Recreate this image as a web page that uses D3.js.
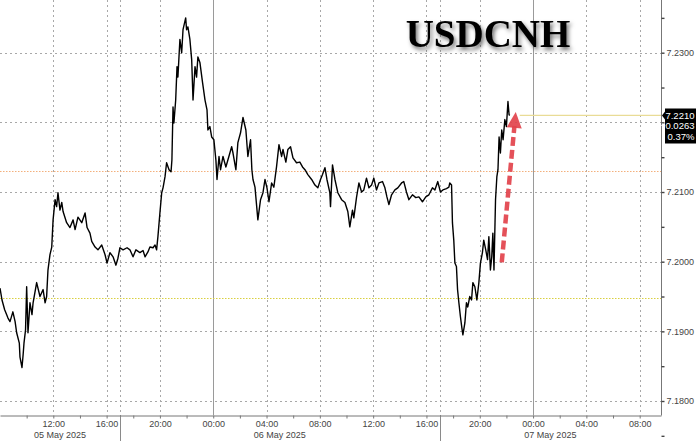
<!DOCTYPE html>
<html><head><meta charset="utf-8">
<script src="https://cdn.jsdelivr.net/npm/d3@7"></script>
<style>body{margin:0;background:#fff}svg{display:block}</style>
</head><body>
<svg id="c" width="696" height="441"></svg>
<script>
// ---------- DATA ----------
const title = "USDCNH";
const seriesStart = Date.UTC(2025, 4, 5, 8, 0);
const axisEnd = Date.UTC(2025, 4, 7, 9, 36);
// [minutes after 05 May 08:00, price]
const series = [
[0,7.1962],[9,7.1945],[21,7.1931],[36,7.1919],[45,7.1914],[58,7.1928],[68,7.1914],[75,7.1898],[87,7.1883],[90,7.1863],
[99,7.1848],[104,7.1866],[108,7.1883],[115,7.1902],[120,7.1964],[126,7.1898],[135,7.1941],[144,7.1924],[149,7.1941],[165,7.1970],
[180,7.1950],[194,7.1960],[203,7.1941],[210,7.1950],[216,7.1988],[225,7.2010],[233,7.2021],[239,7.2060],[248,7.2089],[255,7.2079],
[261,7.2099],[270,7.2074],[278,7.2085],[284,7.2072],[300,7.2056],[315,7.2049],[329,7.2060],[338,7.2046],[351,7.2064],[368,7.2056],
[383,7.2070],[392,7.2049],[405,7.2041],[413,7.2029],[428,7.2021],[441,7.2017],[458,7.2024],[473,7.2010],[482,7.1998],[495,7.2013],
[509,7.2007],[522,7.1995],[531,7.2005],[540,7.2020],[554,7.2017],[572,7.2020],[585,7.2017],[599,7.2007],[612,7.2017],[630,7.2013],
[644,7.2016],[653,7.2007],[666,7.2014],[675,7.2021],[689,7.2020],[698,7.2024],[705,7.2017],[711,7.2036],[720,7.2070],[728,7.2099],
[734,7.2106],[743,7.2122],[750,7.2142],[761,7.2132],[770,7.2129],[774,7.2146],[779,7.2222],[783,7.2199],[791,7.2232],[797,7.2280],
[801,7.2265],[810,7.2319],[818,7.2300],[824,7.2333],[836,7.2350],[840,7.2333],[846,7.2337],[855,7.2319],[863,7.2290],[869,7.2232],
[878,7.2280],[885,7.2265],[891,7.2294],[900,7.2286],[912,7.2257],[923,7.2232],[932,7.2218],[936,7.2189],[945,7.2194],[953,7.2179],
[963,7.2175],[972,7.2146],[977,7.2118],[986,7.2151],[993,7.2132],[1004,7.2151],[1017,7.2136],[1026,7.2146],[1043,7.2165],[1049,7.2156],
[1062,7.2132],[1071,7.2171],[1083,7.2185],[1094,7.2207],[1107,7.2189],[1116,7.2151],[1128,7.2175],[1134,7.2132],[1139,7.2118],[1148,7.2107],
[1161,7.2060],[1173,7.2089],[1184,7.2099],[1193,7.2118],[1202,7.2106],[1211,7.2086],[1223,7.2113],[1233,7.2107],[1245,7.2136],[1256,7.2168],
[1268,7.2151],[1274,7.2161],[1287,7.2143],[1296,7.2161],[1308,7.2165],[1319,7.2149],[1335,7.2142],[1350,7.2143],[1362,7.2136],[1373,7.2132],
[1386,7.2125],[1403,7.2118],[1418,7.2110],[1431,7.2106],[1443,7.2118],[1452,7.2125],[1463,7.2135],[1472,7.2118],[1485,7.2099],[1488,7.2079],
[1497,7.2139],[1508,7.2118],[1521,7.2099],[1538,7.2089],[1553,7.2085],[1566,7.2072],[1575,7.2050],[1587,7.2074],[1593,7.2063],[1605,7.2092],
[1616,7.2113],[1628,7.2100],[1638,7.2103],[1650,7.2120],[1661,7.2106],[1673,7.2110],[1683,7.2120],[1695,7.2103],[1706,7.2113],[1722,7.2115],
[1733,7.2106],[1742,7.2093],[1751,7.2082],[1763,7.2096],[1778,7.2103],[1791,7.2106],[1808,7.2113],[1818,7.2115],[1830,7.2100],[1841,7.2089],
[1857,7.2096],[1872,7.2092],[1886,7.2093],[1902,7.2086],[1917,7.2093],[1931,7.2096],[1947,7.2106],[1958,7.2103],[1971,7.2115],[1983,7.2100],
[1994,7.2103],[2010,7.2105],[2021,7.2107],[2025,7.2113],[2033,7.2110],[2037,7.2056],[2043,7.2031],[2048,7.1998],[2055,7.1993],[2060,7.1960],
[2066,7.1941],[2073,7.1921],[2079,7.1906],[2084,7.1895],[2093,7.1912],[2100,7.1941],[2106,7.1935],[2115,7.1950],[2123,7.1945],[2129,7.1970],
[2138,7.1964],[2147,7.1945],[2156,7.1970],[2163,7.1998],[2172,7.2013],[2178,7.2031],[2187,7.2017],[2195,7.2003],[2201,7.2036],[2208,7.1988],
[2214,7.2007],[2219,7.2041],[2224,7.1988],[2231,7.2089],[2237,7.2122],[2242,7.2132],[2247,7.2179],[2253,7.2156],[2259,7.2189],[2265,7.2175],
[2273,7.2204],[2280,7.2194],[2287,7.2230],[2292,7.2211],[2295,7.2210]
];
const lastPrice = 7.2210;
const lastLabels = ["7.2210", "+0.0263", "0.37%"];
const refLevels = [7.2130, 7.1948];
const refColors = ["#f3b07c", "#d9d040"];
const yMajorTicks = [7.18, 7.19, 7.20, 7.21, 7.22, 7.23];
const yLabelled = [7.18, 7.19, 7.20, 7.21, 7.23]; // 7.22 is hidden under the last-price box
const yMinorTicks = [7.175, 7.185, 7.195, 7.205, 7.215, 7.225, 7.235];
const dayLabels = ["05 May 2025", "06 May 2025", "07 May 2025"];
const sessionBreaks = [Date.UTC(2025, 4, 5, 17), Date.UTC(2025, 4, 6, 17)];
const arrowFrom = [2259, 7.1999]; // [minutes, price]
const arrowTo = [2322, 7.2215];

// ---------- LAYOUT ----------
const W = 696, H = 441, plotR = 661, plotB = 415;
const svg = d3.select("#c");
const tm = m => new Date(seriesStart + m * 60000);
const x = d3.scaleUtc().domain([new Date(seriesStart), new Date(axisEnd)]).range([0, plotR]);
const y = d3.scaleLinear().domain([7.18, 7.23]).range([401, 52.7]);
const font = "'Liberation Sans', Arial, sans-serif";

const defs = svg.append("defs");
const f = defs.append("filter").attr("id", "sh").attr("x", "-20%").attr("y", "-40%").attr("width", "140%").attr("height", "180%");
f.append("feDropShadow").attr("dx", 2).attr("dy", 3).attr("stdDeviation", 2.2).attr("flood-color", "#000").attr("flood-opacity", 0.55);

// horizontal grid
svg.append("g").selectAll("line").data(yMajorTicks).join("line")
  .attr("x1", 0).attr("x2", plotR).attr("y1", d => Math.round(y(d)) + 0.5).attr("y2", d => Math.round(y(d)) + 0.5)
  .attr("stroke", "#a8a8a8").attr("stroke-dasharray", "2,3");

// vertical grid
const hours4 = d3.utcHour.every(4).range(new Date(seriesStart), new Date(axisEnd)).filter(d => x(d) > 10);
svg.append("g").selectAll("line").data(hours4).join("line")
  .attr("x1", d => Math.round(x(d)) + 0.5).attr("x2", d => Math.round(x(d)) + 0.5)
  .attr("y1", 0).attr("y2", plotB)
  .attr("stroke", d => d.getUTCHours() === 0 ? "#9a9a9a" : "#a8a8a8")
  .attr("stroke-dasharray", d => d.getUTCHours() === 0 ? null : "2,3");
svg.append("g").selectAll("line").data(sessionBreaks).join("line")
  .attr("x1", d => Math.round(x(d)) + 0.5).attr("x2", d => Math.round(x(d)) + 0.5)
  .attr("y1", 0).attr("y2", plotB)
  .attr("stroke", "#a8a8a8").attr("stroke-dasharray", "2,3");
svg.append("g").selectAll("line").data(sessionBreaks).join("line")
  .attr("x1", d => Math.round(x(d)) + 0.5).attr("x2", d => Math.round(x(d)) + 0.5)
  .attr("y1", plotB).attr("y2", H)
  .attr("stroke", "#8a8a8a");

// reference levels
svg.append("g").selectAll("line").data(refLevels).join("line")
  .attr("x1", 0).attr("x2", plotR).attr("y1", d => Math.round(y(d)) + 0.5).attr("y2", d => Math.round(y(d)) + 0.5)
  .attr("stroke", (d, i) => refColors[i]).attr("stroke-width", 1.2).attr("stroke-dasharray", "1.5,1.5");

// last price line
const lastT = series[series.length - 1][0];
svg.append("line").attr("x1", x(tm(lastT)) + 10).attr("x2", plotR)
  .attr("y1", y(lastPrice)).attr("y2", y(lastPrice)).attr("stroke", "#e9dc96").attr("stroke-width", 1.2);

// price line
svg.append("path").datum(series)
  .attr("d", d3.line().x(d => x(tm(d[0]))).y(d => y(d[1])))
  .attr("fill", "none").attr("stroke", "#000").attr("stroke-width", 1.4).attr("stroke-linejoin", "round");

// bottom axis
const xTicks = d3.utcHour.every(2).range(new Date(seriesStart), new Date(axisEnd)).filter(d => x(d) > 10);
const xAxis = d3.axisBottom(x).tickValues(xTicks).tickSize(3).tickSizeOuter(0)
  .tickFormat(d => d.getUTCHours() % 4 === 0 ? d3.utcFormat("%H:%M")(d) : "");
const gx = svg.append("g").attr("transform", `translate(0,${plotB + 0.5})`).call(xAxis);
gx.select(".domain").attr("stroke", "#777");
gx.selectAll(".tick line").attr("stroke", "#777");
gx.selectAll(".tick text").attr("font-family", font).attr("font-size", 9).attr("fill", "#444").attr("dy", "0.6em");

// day labels
const bounds = [seriesStart, ...sessionBreaks, axisEnd];
svg.append("g").selectAll("text").data(dayLabels).join("text")
  .attr("x", (d, i) => (x(new Date(bounds[i])) + x(new Date(bounds[i + 1]))) / 2)
  .attr("y", 437.5).attr("text-anchor", "middle")
  .attr("font-family", font).attr("font-size", 9).attr("fill", "#444").text(d => d);

// right axis
svg.append("line").attr("x1", plotR + 0.5).attr("x2", plotR + 0.5).attr("y1", 0).attr("y2", plotB + 0.5).attr("stroke", "#777");
const yAxis = d3.axisRight(y).tickValues([...yMajorTicks, ...yMinorTicks]).tickSize(3).tickSizeOuter(0)
  .tickFormat(d => yLabelled.some(v => Math.abs(v - d) < 1e-9) ? d.toFixed(4) : "");
const gy = svg.append("g").attr("transform", `translate(${plotR + 0.5},0)`).call(yAxis);
gy.select(".domain").remove();
gy.selectAll(".tick line").attr("stroke", "#444").attr("stroke-width", 1.4);
gy.selectAll(".tick text").attr("font-family", font).attr("font-size", 9).attr("fill", "#444").attr("x", 5);

// last price box
const ly = y(lastPrice);
svg.append("path")
  .attr("d", `M${plotR + 1},${ly} L${plotR + 4},${ly - 4} L${plotR + 4},${ly - 7} L${W},${ly - 7} L${W},${ly + 28} L${plotR + 4},${ly + 28} L${plotR + 4},${ly + 4} Z`)
  .attr("fill", "#000");
svg.append("g").selectAll("text").data(lastLabels).join("text")
  .attr("x", W - 1.5).attr("y", (d, i) => ly + 3.5 + i * 10.5).attr("text-anchor", "end")
  .attr("font-family", font).attr("font-size", 9.5).attr("fill", "#fff").text(d => d);

// title
svg.append("text").attr("x", 488).attr("y", 47).attr("text-anchor", "middle")
  .attr("font-family", "'Liberation Serif', 'Times New Roman', serif").attr("font-weight", "bold")
  .attr("font-size", 39).attr("fill", "#000").attr("filter", "url(#sh)").text(title);

// red dashed arrow
const p0 = [x(tm(arrowFrom[0])), y(arrowFrom[1])];
const p1 = [x(tm(arrowTo[0])), y(arrowTo[1])];
const dx = p1[0] - p0[0], dy = p1[1] - p0[1], len = Math.hypot(dx, dy);
const ux = dx / len, uy = dy / len, headL = 16, headW = 7.5;
const hb = [p1[0] - ux * headL, p1[1] - uy * headL];
svg.append("line").attr("x1", p0[0]).attr("y1", p0[1]).attr("x2", hb[0] + ux * 2).attr("y2", hb[1] + uy * 2)
  .attr("stroke", "#e2434c").attr("stroke-width", 4.5).attr("stroke-dasharray", "9,4").attr("opacity", 0.92);
svg.append("path")
  .attr("d", `M${p1[0]},${p1[1]} L${hb[0] - uy * headW},${hb[1] + ux * headW} L${hb[0] + uy * headW},${hb[1] - ux * headW} Z`)
  .attr("fill", "#e2434c").attr("opacity", 0.92);
</script>
</body></html>
